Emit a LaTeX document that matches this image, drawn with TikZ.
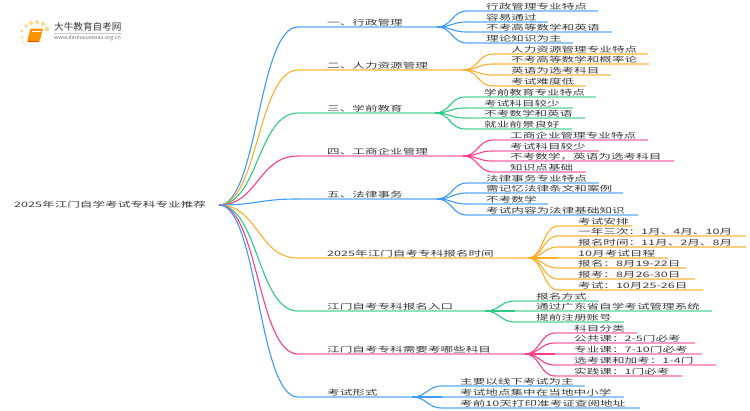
\documentclass[tikz,border=0pt]{standalone}
\usepackage{fontspec}
\setmainfont[FakeStretch=1.68]{Noto Sans CJK SC}
\newfontfamily\logofont{Noto Sans CJK SC}
\definecolor{cblue}{HTML}{3D9BFF}
\definecolor{lblue}{HTML}{93C8FF}
\definecolor{corange}{HTML}{FFAE2B}
\definecolor{lorange}{HTML}{FFCF80}
\definecolor{cgreen}{HTML}{2FCB82}
\definecolor{lgreen}{HTML}{8EE3BC}
\definecolor{cpink}{HTML}{FF3D8E}
\definecolor{lpink}{HTML}{FF9CC5}
\definecolor{ink}{HTML}{3A3A3A}
\usetikzlibrary{calc}
\tikzset{
  lbl/.style={anchor=base west,inner sep=0pt,font=\fontsize{7.5}{9}\selectfont,text=ink},
  wire/.style={line width=1.1pt},
  thick wire/.style={line width=1.4pt}
}
% \branch{name}{colour}{light}{line y}{hub x}{label x}{text}
\newcommand{\branch}[7]{%
  \coordinate (#1e) at (298,#4);
  \coordinate (#1h) at (#5,#4);
  \node[lbl] (#1t) at (#6,#4-1.5) {#7};
  \draw[thick wire,#3] (#1e) -- (#1h);
  \draw[wire,#2] (root) .. controls (258,205) and (258,#4) .. (#1e);
}
% \leafy{name}{hub}{colour}{light}{line y}{text x}{end x}{text}
\newcommand{\leafy}[8]{%
  \coordinate (#2a) at ($(#1h)+(30,0)$);
  \coordinate (#2s) at (#2a |- 0,#5);
  \coordinate (#2z) at (#7,#5);
  \node[lbl] (#2t) at (#6,#5-1.5) {#8};
  \draw[wire,#4] (#2s) -- (#2z);
  \draw[wire,#3] (#1h) .. controls ($(#1h)+(15,0)$) and ($(#2s)+(-15,0)$) .. (#2s);
}
\begin{document}
\begin{tikzpicture}[x=1pt,y=-1pt]
\useasboundingbox (0,0) rectangle (750,410);
% logo
\foreach \a/\b/\r in {23/42/1,22/37/1.3,22/31/1.6,26/26/1.8,31/23/2,37/22/2,43/24/2,47/29/2.3}
  \fill[fill={rgb,255:red,255;green,205;blue,90},opacity=.75] (\a,\b) circle (\r);
\fill[rounded corners=1pt,fill=orange!85!yellow] (30.5,28.5) -- (43,28.5) -- (39.5,42) -- (27,42) -- cycle;
\draw[white,line width=.5pt] (32,31.5) -- (41,31.5);
\draw[orange!60!red,line width=.6pt] (27.5,41) -- (39,41);
\node[inner sep=0pt,anchor=west,text=ink,font=\logofont\fontsize{9.6}{10}\selectfont] (logoa) at (54,27) {大牛教育自考网};
\draw[black!20,line width=.5pt] (54,33) -- (122,33);
\node[inner sep=0pt,anchor=west,text=black!55,font=\logofont\fontsize{5.4}{6}\selectfont] (logob) at (54,38.5) {www.daniuxueixiao.org.cn};

\coordinate (root) at (219,205);
\node[lbl] (roott) at (14,207.5) {2025年江门自学考试专科专业推荐};

\branch{a}{cblue}{lblue}{27}{437}{327}{一、行政管理}
\leafy{a}{a1}{cblue}{lblue}{11}{486}{598}{行政管理专业特点}
\leafy{a}{a2}{cblue}{lblue}{22}{486}{548}{容易通过}
\leafy{a}{a3}{cblue}{lblue}{32}{486}{612}{不考高等数学和英语}
\leafy{a}{a4}{cblue}{lblue}{43}{486}{573}{理论知识为主}

\branch{b}{corange}{lorange}{70}{463}{327}{二、人力资源管理}
\leafy{b}{b1}{corange}{lorange}{54}{511}{648}{人力资源管理专业特点}
\leafy{b}{b2}{corange}{lorange}{64}{511}{649}{不考高等数学和概率论}
\leafy{b}{b3}{corange}{lorange}{75}{511}{611}{英语为选考科目}
\leafy{b}{b4}{corange}{lorange}{86}{511}{586}{考试难度低}

\branch{c}{cgreen}{lgreen}{113}{435}{327}{三、学前教育}
\leafy{c}{c1}{cgreen}{lgreen}{97}{484}{596}{学前教育专业特点}
\leafy{c}{c2}{cgreen}{lgreen}{108}{484}{573}{考试科目较少}
\leafy{c}{c3}{cgreen}{lgreen}{118}{484}{585}{不考数学和英语}
\leafy{c}{c4}{cgreen}{lgreen}{129}{484}{572}{就业前景良好}

\branch{d}{cpink}{lpink}{156}{463}{327}{四、工商企业管理}
\leafy{d}{d1}{cpink}{lpink}{140}{510}{648}{工商企业管理专业特点}
\leafy{d}{d2}{cpink}{lpink}{151}{510}{599}{考试科目较少}
\leafy{d}{d3}{cpink}{lpink}{161}{510}{674}{不考数学，英语为选考科目}
\leafy{d}{d4}{cpink}{lpink}{172}{510}{586}{知识点基础}

\branch{e}{cblue}{lblue}{199}{437}{327}{五、法律事务}
\leafy{e}{e1}{cblue}{lblue}{183}{486}{599}{法律事务专业特点}
\leafy{e}{e2}{cblue}{lblue}{193}{486}{623}{需记忆法律条文和案例}
\leafy{e}{e3}{cblue}{lblue}{204}{486}{548}{不考数学}
\leafy{e}{e4}{cblue}{lblue}{215}{486}{638}{考试内容为法律基础知识}

\branch{f}{corange}{lorange}{258}{528}{327}{2025年江门自考专科报名时间}
\leafy{f}{f1}{corange}{lorange}{226}{578}{632}{考试安排}
\leafy{f}{f2}{corange}{lorange}{236}{578}{746}{一年三次：1月、4月、10月}
\leafy{f}{f3}{corange}{lorange}{247}{578}{746}{报名时间：11月、2月、8月}
\leafy{f}{f4}{corange}{lorange}{258}{578}{668}{10月考试日程}
\leafy{f}{f5}{corange}{lorange}{268}{578}{686}{报名：8月19-22日}
\leafy{f}{f6}{corange}{lorange}{279}{578}{695}{报考：8月26-30日}
\leafy{f}{f7}{corange}{lorange}{290}{578}{703}{考试：10月25-26日}

\branch{g}{cgreen}{lgreen}{311}{485}{327}{江门自考专科报名入口}
\leafy{g}{g1}{cgreen}{lgreen}{301}{536}{599}{报名方式}
\leafy{g}{g2}{cgreen}{lgreen}{311}{536}{712}{通过广东省自学考试管理系统}
\leafy{g}{g3}{cgreen}{lgreen}{322}{536}{624}{提前注册账号}

\branch{h}{cpink}{lpink}{354}{525}{327}{江门自考专科需要考哪些科目}
\leafy{h}{h1}{cpink}{lpink}{333}{574}{637}{科目分类}
\leafy{h}{h2}{cpink}{lpink}{343}{574}{695}{公共课：2-5门必考}
\leafy{h}{h3}{cpink}{lpink}{354}{574}{702}{专业课：7-10门必考}
\leafy{h}{h4}{cpink}{lpink}{365}{574}{716}{选考课和加考：1-4门}
\leafy{h}{h5}{cpink}{lpink}{376}{574}{682}{实践课：1门必考}

\branch{i}{cblue}{lblue}{397}{412}{327}{考试形式}
\leafy{i}{i1}{cblue}{lblue}{386}{460}{585}{主要以线下考试为主}
\leafy{i}{i2}{cblue}{lblue}{397}{460}{624}{考试地点集中在当地中小学}
\leafy{i}{i3}{cblue}{lblue}{408}{460}{640}{考前10天打印准考证查阅地址}
\end{tikzpicture}
\end{document}
